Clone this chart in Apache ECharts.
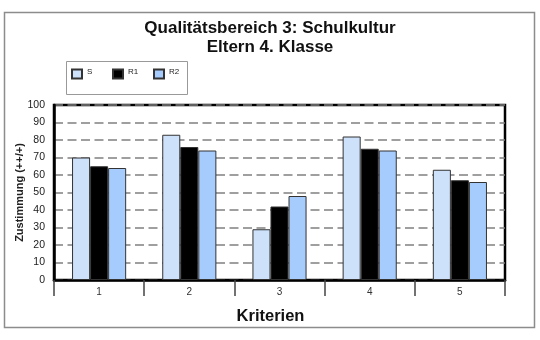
<!DOCTYPE html>
<html>
<head>
<meta charset="utf-8">
<script src="https://cdn.jsdelivr.net/npm/echarts@6/dist/echarts.min.js"></script>
<style>html,body{margin:0;padding:0;background:#fff;}#c{width:540px;height:340px;}</style>
</head>
<body>
<div id="c"></div>
<script>
var categories = ['1', '2', '3', '4', '5'];
var seriesNames = ['S', 'R1', 'R2'];
var valuesS = [70, 83, 29, 82, 63];
var valuesR1 = [65, 76, 42, 75, 57];
var valuesR2 = [64, 74, 48, 74, 56];
var yTicks = [0, 10, 20, 30, 40, 50, 60, 70, 80, 90, 100];

var colors = ['#cde1fb', '#000000', '#a6cbfd'];
var data = [valuesS, valuesR1, valuesR2];
var legendLefts = [71, 112, 153];

var chart = echarts.init(document.getElementById('c'), null, {renderer: 'canvas'});
var font = 'Liberation Sans, Arial, sans-serif';
chart.setOption({
  animation: false,
  backgroundColor: '#fff',
  textStyle: {fontFamily: font},
  graphic: [{
    type: 'rect', shape: {x: 4.5, y: 12.5, width: 530, height: 315},
    style: {fill: 'none', stroke: '#8c8c8c', lineWidth: 1.5}, z: -10
  }, {
    type: 'rect', shape: {x: 66.5, y: 61.5, width: 121, height: 33},
    style: {fill: 'none', stroke: '#999', lineWidth: 1}, z: -5
  }],
  title: {
    text: 'Qualitätsbereich 3: Schulkultur\nEltern 4. Klasse',
    left: 'center', top: 14,
    textStyle: {fontSize: 17, fontWeight: 'bold', color: '#111', lineHeight: 19, fontFamily: font}
  },
  legend: seriesNames.map(function (n, i) {
    return {
      left: legendLefts[i], top: 68,
      data: [n],
      itemWidth: 10, itemHeight: 9,
      padding: 0,
      icon: 'rect',
      formatter: function (name) { return '{a|' + name + '}'; },
      textStyle: {
        fontSize: 8, color: '#222', fontFamily: font,
        rich: {a: {fontSize: 8, color: '#222', fontFamily: font, padding: [0, 0, 4, 0]}}
      }
    };
  }),
  grid: {
    left: 54, right: 35, top: 105, bottom: 60,
    outerBoundsMode: 'none',
    show: true, borderColor: '#000', borderWidth: 2.5, backgroundColor: 'transparent'
  },
  xAxis: {
    type: 'category',
    data: categories,
    name: 'Kriterien',
    nameLocation: 'middle',
    nameGap: 28,
    nameMoveOverlap: false,
    nameTextStyle: {fontSize: 16.5, fontWeight: 'bold', color: '#111', padding: [0, 18, 0, 0], fontFamily: font},
    axisLine: {show: true, lineStyle: {color: '#000', width: 2.5}},
    axisTick: {show: true, length: 16, lineStyle: {color: '#444', width: 1.5}},
    axisLabel: {fontSize: 10, color: '#333', margin: 7}
  },
  yAxis: {
    type: 'value',
    min: 0, max: 100, interval: 10,
    name: 'Zustimmung (++/+)',
    nameLocation: 'middle',
    nameGap: 29,
    nameMoveOverlap: false,
    nameTextStyle: {fontSize: 11, fontWeight: 'bold', color: '#222', fontFamily: font},
    axisLine: {show: true, lineStyle: {color: '#000', width: 2.5}},
    axisTick: {show: false},
    axisLabel: {fontSize: 10.5, color: '#222', margin: 9, formatter: function (v) { return yTicks.indexOf(v) >= 0 ? String(v) : ''; }},
    splitLine: {show: true, lineStyle: {color: '#808080', width: 1.5, type: [9, 4.5]}}
  },
  series: seriesNames.map(function (n, i) {
    return {
      name: n, type: 'bar', data: data[i],
      barGap: '0%', barCategoryGap: '40%',
      itemStyle: {color: colors[i], borderColor: '#333', borderWidth: 1}
    };
  })
});
</script>
</body>
</html>
